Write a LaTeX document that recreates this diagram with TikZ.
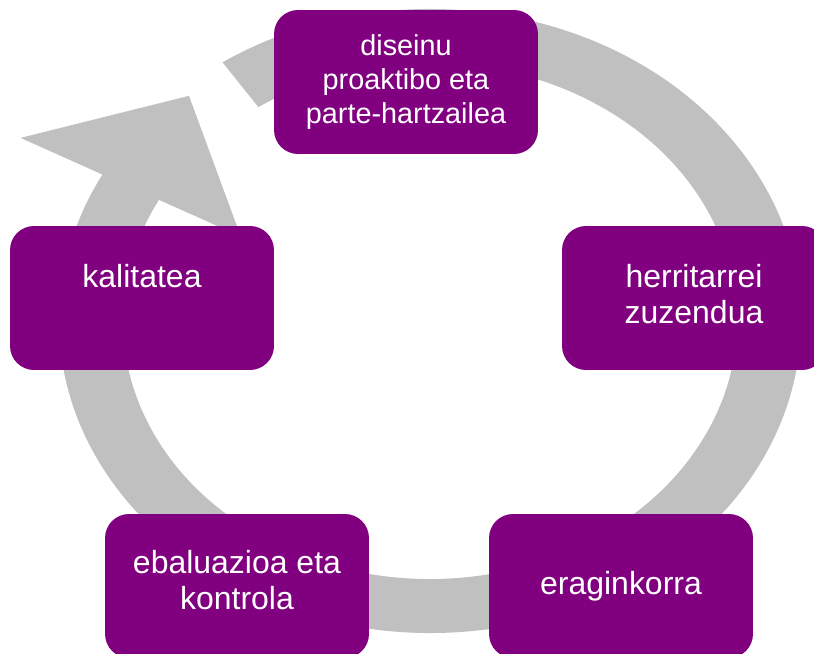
\documentclass[tikz,border=0pt]{standalone}
\usepackage{fontspec}
\setmainfont{Liberation Sans}
\usepackage{tikz}

\definecolor{morea}{HTML}{800080}
\definecolor{grisa}{HTML}{C0C0C0}

\begin{document}
\begin{tikzpicture}[x=0.02cm, y=0.02cm,
    kutxa/.style={rectangle, rounded corners=0.48cm, fill=morea, text=white,
      minimum width=5.28cm, minimum height=2.88cm, inner sep=0pt, align=center,
      font=\fontsize{18.2pt}{20.5pt}\selectfont}]
    % Marco
    \clip (0,0) rectangle (814,653);

    % Flecha circular
    \begin{scope}[shift={(430,332)}]
        \fill[grisa] (124:371 and 312)
            arc[start angle=124, end angle=-208, x radius=371, y radius=312]
            -- (152:463.75 and 390) -- (132:360.2 and 303)
            -- (152:214.4 and 180.3) -- (152:307 and 258)
            arc[start angle=-208, end angle=124, x radius=307, y radius=258]
            -- cycle;
    \end{scope}

    % Cajas
    \node[kutxa, font=\fontsize{16.4pt}{19.4pt}\selectfont] (diseinu) at (406,571)
        {diseinu\\proaktibo eta\\parte-hartzailea};
    \node[kutxa, text depth=0.18cm] (herritarrei) at (694,355) {herritarrei\\zuzendua};
    \node[kutxa] (eraginkorra) at (621,67) {eraginkorra};
    \node[kutxa, text depth=0.26cm] (ebaluazioa) at (237,67) {ebaluazioa eta\\kontrola};
    \node[kutxa, text depth=0.9cm] (kalitatea) at (142,355) {kalitatea};
\end{tikzpicture}
\end{document}
